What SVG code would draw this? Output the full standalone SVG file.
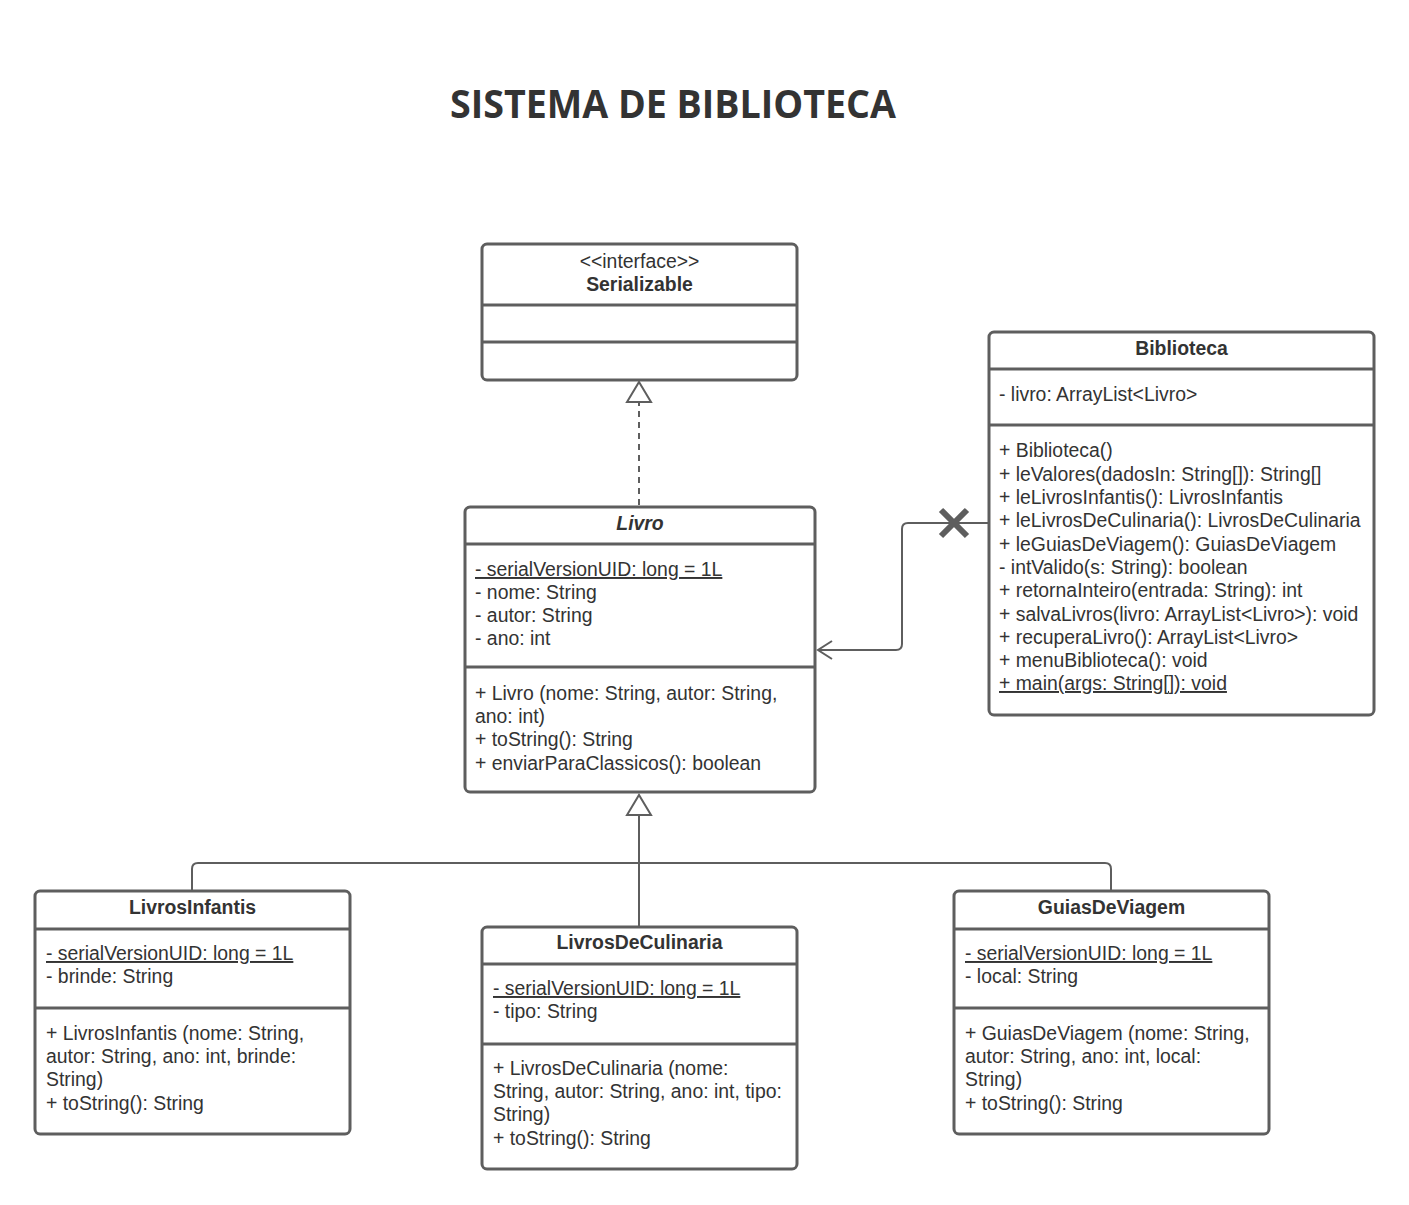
<svg xmlns="http://www.w3.org/2000/svg" width="1409" height="1205" viewBox="0 0 1409 1205">
<style>
.box{fill:#ffffff;stroke:#5e5e5e;stroke-width:3}
.div{stroke:#5e5e5e;stroke-width:3}
.t{font-family:"Liberation Sans",Arial,sans-serif;font-size:19.4px;fill:#333333}
.b{font-weight:bold;text-anchor:middle}
.u{text-decoration:underline}
.c{fill:none;stroke:#5e5e5e;stroke-width:2}
.title{font-family:"Open Sans","Noto Sans",sans-serif;font-size:40px;font-weight:bold;fill:#333333}
</style>
<rect width="1409" height="1205" fill="#ffffff"/>
<text class="title" x="450" y="118" textLength="446" lengthAdjust="spacingAndGlyphs">SISTEMA DE BIBLIOTECA</text>

<g id="connectors">
  <path class="c" d="M639,505 V402" stroke-dasharray="6,5"/>
  <path class="c" d="M627,402 L639,382 L651,402 Z" fill="#ffffff"/>
  <path class="c" d="M989,523 H908 Q902,523 902,529 V644 Q902,650 896,650 H818"/>
  <path class="c" d="M832,641 L818,650 L832,659"/>
  <path d="M941,510 L967,536 M967,510 L941,536" stroke="#5e5e5e" stroke-width="6"/>
  <path class="c" d="M639,927 V815"/>
  <path class="c" d="M627,815 L639,795 L651,815 Z" fill="#ffffff"/>
  <path class="c" d="M192,891 V869 Q192,863 198,863 H1105 Q1111,863 1111,869 V891"/>
</g>

<g id="serializable">
  <rect class="box" x="482" y="244" width="315" height="136" rx="5"/>
  <line class="div" x1="482" y1="305" x2="797" y2="305"/>
  <line class="div" x1="482" y1="342" x2="797" y2="342"/>
  <text class="t" x="639.5" y="268" text-anchor="middle">&lt;&lt;interface&gt;&gt;</text>
  <text class="t b" x="639.5" y="291">Serializable</text>
</g>

<g id="livro">
  <rect class="box" x="465" y="507" width="350" height="285" rx="5"/>
  <line class="div" x1="465" y1="544" x2="815" y2="544"/>
  <line class="div" x1="465" y1="667" x2="815" y2="667"/>
  <text class="t b" x="640" y="530" font-style="italic">Livro</text>
  <text class="t u" x="475" y="576">- serialVersionUID: long = 1L</text>
  <text class="t" x="475" y="599">- nome: String</text>
  <text class="t" x="475" y="622">- autor: String</text>
  <text class="t" x="475" y="645">- ano: int</text>
  <text class="t" x="475" y="700">+ Livro (nome: String, autor: String,</text>
  <text class="t" x="475" y="723">ano: int)</text>
  <text class="t" x="475" y="746">+ toString(): String</text>
  <text class="t" x="475" y="770">+ enviarParaClassicos(): boolean</text>
</g>

<g id="biblioteca">
  <rect class="box" x="989" y="332" width="385" height="383" rx="5"/>
  <line class="div" x1="989" y1="369" x2="1374" y2="369"/>
  <line class="div" x1="989" y1="425" x2="1374" y2="425"/>
  <text class="t b" x="1181.5" y="355">Biblioteca</text>
  <text class="t" x="999" y="401">- livro: ArrayList&lt;Livro&gt;</text>
  <text class="t" x="999" y="457">+ Biblioteca()</text>
  <text class="t" x="999" y="481">+ leValores(dadosIn: String[]): String[]</text>
  <text class="t" x="999" y="504">+ leLivrosInfantis(): LivrosInfantis</text>
  <text class="t" x="999" y="527">+ leLivrosDeCulinaria(): LivrosDeCulinaria</text>
  <text class="t" x="999" y="551">+ leGuiasDeViagem(): GuiasDeViagem</text>
  <text class="t" x="999" y="574">- intValido(s: String): boolean</text>
  <text class="t" x="999" y="597">+ retornaInteiro(entrada: String): int</text>
  <text class="t" x="999" y="621">+ salvaLivros(livro: ArrayList&lt;Livro&gt;): void</text>
  <text class="t" x="999" y="644">+ recuperaLivro(): ArrayList&lt;Livro&gt;</text>
  <text class="t" x="999" y="667">+ menuBiblioteca(): void</text>
  <text class="t u" x="999" y="690">+ main(args: String[]): void</text>
</g>

<g id="livrosInfantis">
  <rect class="box" x="35" y="891" width="315" height="243" rx="5"/>
  <line class="div" x1="35" y1="929" x2="350" y2="929"/>
  <line class="div" x1="35" y1="1008" x2="350" y2="1008"/>
  <text class="t b" x="192.5" y="914">LivrosInfantis</text>
  <text class="t u" x="46" y="960">- serialVersionUID: long = 1L</text>
  <text class="t" x="46" y="983">- brinde: String</text>
  <text class="t" x="46" y="1040">+ LivrosInfantis (nome: String,</text>
  <text class="t" x="46" y="1063">autor: String, ano: int, brinde:</text>
  <text class="t" x="46" y="1086">String)</text>
  <text class="t" x="46" y="1110">+ toString(): String</text>
</g>

<g id="livrosDeCulinaria">
  <rect class="box" x="482" y="927" width="315" height="242" rx="5"/>
  <line class="div" x1="482" y1="964" x2="797" y2="964"/>
  <line class="div" x1="482" y1="1044" x2="797" y2="1044"/>
  <text class="t b" x="639.5" y="949">LivrosDeCulinaria</text>
  <text class="t u" x="493" y="995">- serialVersionUID: long = 1L</text>
  <text class="t" x="493" y="1018">- tipo: String</text>
  <text class="t" x="493" y="1075">+ LivrosDeCulinaria (nome:</text>
  <text class="t" x="493" y="1098">String, autor: String, ano: int, tipo:</text>
  <text class="t" x="493" y="1121">String)</text>
  <text class="t" x="493" y="1145">+ toString(): String</text>
</g>

<g id="guiasDeViagem">
  <rect class="box" x="954" y="891" width="315" height="243" rx="5"/>
  <line class="div" x1="954" y1="929" x2="1269" y2="929"/>
  <line class="div" x1="954" y1="1008" x2="1269" y2="1008"/>
  <text class="t b" x="1111.5" y="914">GuiasDeViagem</text>
  <text class="t u" x="965" y="960">- serialVersionUID: long = 1L</text>
  <text class="t" x="965" y="983">- local: String</text>
  <text class="t" x="965" y="1040">+ GuiasDeViagem (nome: String,</text>
  <text class="t" x="965" y="1063">autor: String, ano: int, local:</text>
  <text class="t" x="965" y="1086">String)</text>
  <text class="t" x="965" y="1110">+ toString(): String</text>
</g>
</svg>
